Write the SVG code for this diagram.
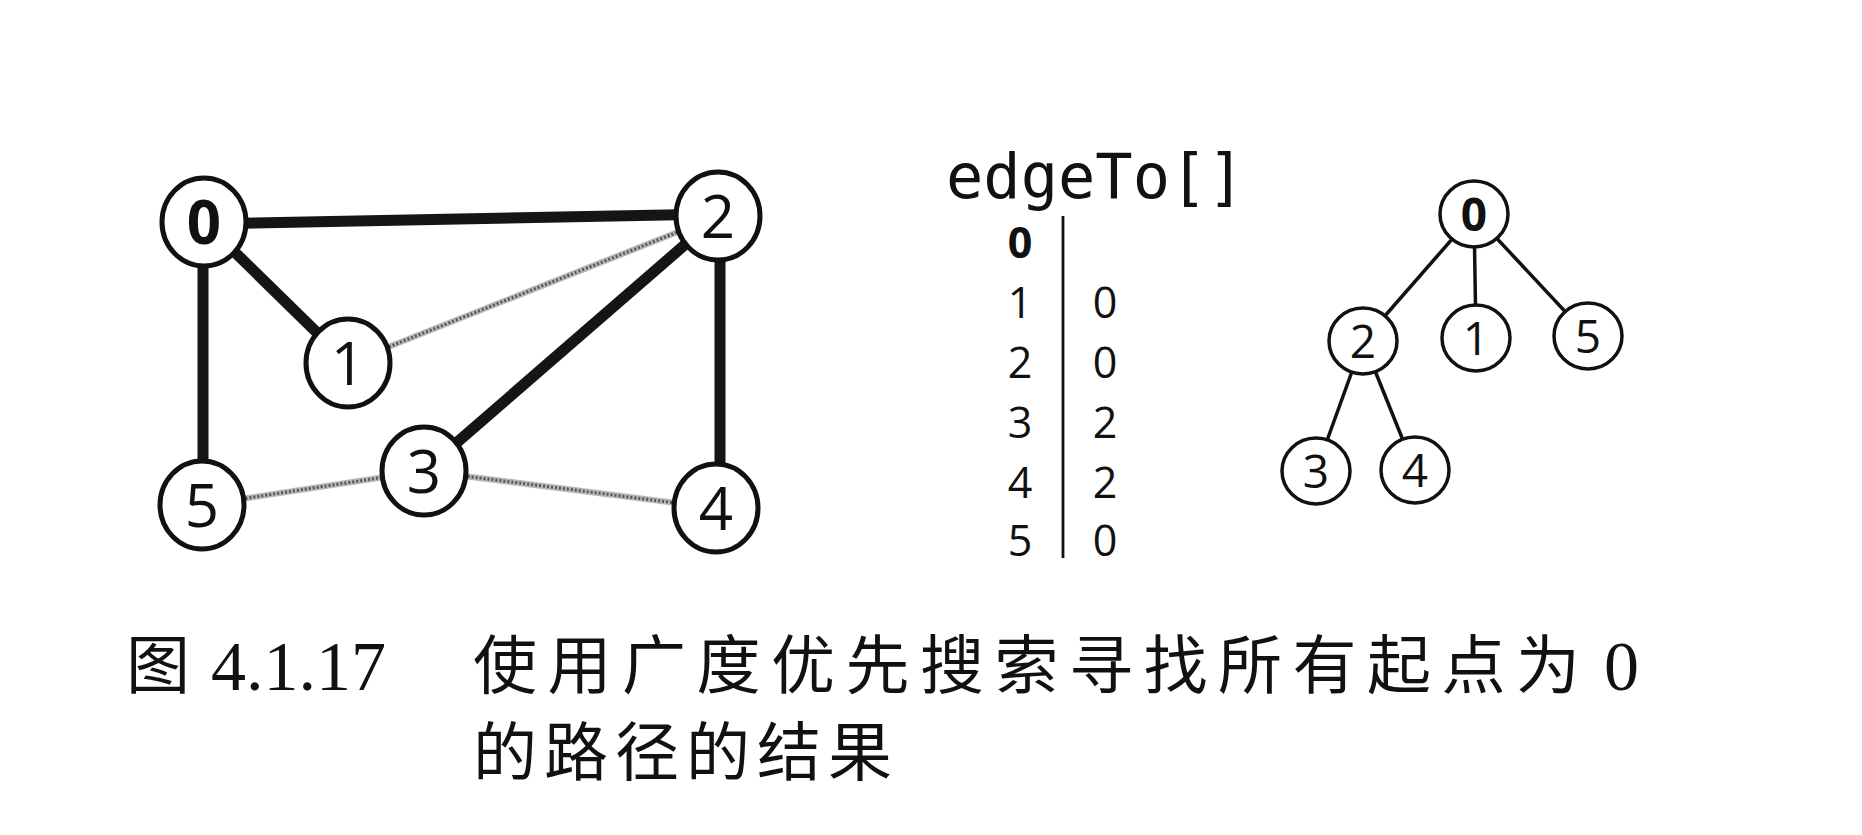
<svg xmlns="http://www.w3.org/2000/svg" width="1862" height="835" viewBox="0 0 1862 835">
<style>
.big{fill:#fff;stroke:#111;stroke-width:5}
.sm{fill:#fff;stroke:#111;stroke-width:3.5}
.bl{font-family:"Open Sans","DejaVu Sans",sans-serif;font-size:60px;fill:#111;text-anchor:middle}
.tl{font-family:"Open Sans","DejaVu Sans",sans-serif;font-size:46px;fill:#111;text-anchor:middle}
.tb{font-family:"Open Sans","DejaVu Sans",sans-serif;font-size:43px;fill:#111;text-anchor:middle}
.thick{stroke:#151515;stroke-width:11;stroke-linecap:butt}
.thinA{stroke:#b8b8b8;stroke-width:6}
.thinB{stroke:#555;stroke-width:3;stroke-dasharray:2 2}
.tree{stroke:#111;stroke-width:3.5}
.cap{font-family:"Noto Sans CJK SC",sans-serif;font-size:64px;fill:#111}
.capn{font-family:"Liberation Serif",serif;font-size:70px;fill:#111}
</style>
<rect width="1862" height="835" fill="#fff"/>
<g id="connectors">
<line class="thick" x1="204" y1="224" x2="718" y2="214"/>
<line class="thick" x1="204" y1="222" x2="348" y2="363"/>
<line class="thick" x1="203" y1="222" x2="203" y2="505"/>
<line class="thick" x1="718" y1="216" x2="424" y2="471"/>
<line class="thick" x1="720" y1="216" x2="720" y2="508"/>
<g>
<line class="thinA" x1="348" y1="363" x2="718" y2="216"/>
<line class="thinB" x1="348" y1="363" x2="718" y2="216"/>
<line class="thinA" x1="202" y1="505" x2="424" y2="471"/>
<line class="thinB" x1="202" y1="505" x2="424" y2="471"/>
<line class="thinA" x1="424" y1="471" x2="716" y2="508"/>
<line class="thinB" x1="424" y1="471" x2="716" y2="508"/>
</g>
<line class="tree" x1="1474" y1="214" x2="1363" y2="341"/>
<line class="tree" x1="1474" y1="214" x2="1476" y2="338"/>
<line class="tree" x1="1474" y1="214" x2="1588" y2="336"/>
<line class="tree" x1="1363" y1="341" x2="1316" y2="471"/>
<line class="tree" x1="1363" y1="341" x2="1415" y2="470"/>
<line stroke="#111" stroke-width="2.8" x1="1063" y1="216" x2="1063" y2="558"/>
</g>
<g id="g0"><ellipse class="big" cx="204" cy="222" rx="42" ry="44"/><text class="bl" x="204" y="244" font-weight="bold">0</text></g>
<g id="g2"><ellipse class="big" cx="718" cy="216" rx="42" ry="44"/><text class="bl" x="718" y="238">2</text></g>
<g id="g1"><ellipse class="big" cx="348" cy="363" rx="42" ry="44"/><text class="bl" x="348" y="385">1</text></g>
<g id="g3"><ellipse class="big" cx="424" cy="471" rx="42" ry="44"/><text class="bl" x="424" y="493">3</text></g>
<g id="g5"><ellipse class="big" cx="202" cy="505" rx="42" ry="44"/><text class="bl" x="202" y="527">5</text></g>
<g id="g4"><ellipse class="big" cx="716" cy="508" rx="42" ry="44"/><text class="bl" x="716" y="530">4</text></g>
<g id="table">
<text x="946" y="198" font-family="DejaVu Sans Mono,monospace" font-size="62" fill="#111">edgeTo[]</text>
<text class="tb" x="1020" y="258" font-weight="bold">0</text>
<text class="tb" x="1020" y="318">1</text><text class="tb" x="1105" y="318">0</text>
<text class="tb" x="1020" y="378">2</text><text class="tb" x="1105" y="378">0</text>
<text class="tb" x="1020" y="438">3</text><text class="tb" x="1105" y="438">2</text>
<text class="tb" x="1020" y="498">4</text><text class="tb" x="1105" y="498">2</text>
<text class="tb" x="1020" y="556">5</text><text class="tb" x="1105" y="556">0</text>
</g>
<g id="t0"><ellipse class="sm" cx="1474" cy="214" rx="34" ry="33"/><text class="tl" x="1474" y="231" font-weight="bold">0</text></g>
<g id="t2"><ellipse class="sm" cx="1363" cy="341" rx="34" ry="33"/><text class="tl" x="1363" y="358">2</text></g>
<g id="t1"><ellipse class="sm" cx="1476" cy="338" rx="34" ry="33"/><text class="tl" x="1476" y="355">1</text></g>
<g id="t5"><ellipse class="sm" cx="1588" cy="336" rx="34" ry="33"/><text class="tl" x="1588" y="353">5</text></g>
<g id="t3"><ellipse class="sm" cx="1316" cy="471" rx="34" ry="33"/><text class="tl" x="1316" y="488">3</text></g>
<g id="t4"><ellipse class="sm" cx="1415" cy="470" rx="34" ry="33"/><text class="tl" x="1415" y="487">4</text></g>
<g id="caption">
<text class="cap" x="126" y="688">图</text>
<text class="capn" x="211" y="690">4.1.17</text>
<text class="cap" x="473" y="688" letter-spacing="10.5">使用广度优先搜索寻找所有起点为</text>
<text class="capn" x="1604" y="690">0</text>
<text class="cap" x="473" y="775" letter-spacing="7">的路径的结果</text>
</g>
</svg>
